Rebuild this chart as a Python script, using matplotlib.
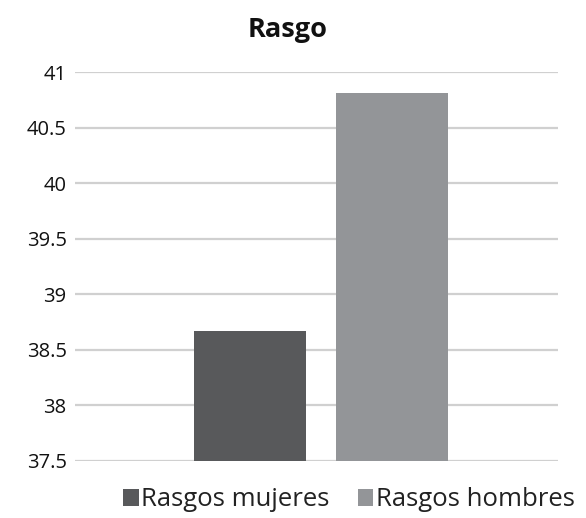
import matplotlib.pyplot as plt

# valores de los rasgos
series = ['Rasgos mujeres', 'Rasgos hombres']
valores = [38.67, 40.81]
colores = ['#58595b', '#939598']
yticks = [37.5, 38, 38.5, 39, 39.5, 40, 40.5, 41]

plt.rcParams['font.family'] = ['Open Sans', 'DejaVu Sans']

fig = plt.figure(figsize=(5.86, 5.18), dpi=100)
ax = fig.add_axes([75 / 586, 1 - 461 / 518, 483 / 586, 389 / 518])

for i, (nombre, v, c) in enumerate(zip(series, valores, colores)):
    ax.bar(i, v - 37.5, bottom=37.5, width=0.79, color=c, label=nombre, zorder=3)

ax.set_ylim(37.5, 41)
ax.set_xlim(-1.23, 2.17)
ax.set_yticks(yticks)
ax.set_yticklabels(['%g' % t for t in yticks])
ax.yaxis.grid(True, color='#d0d0d0', linewidth=1.6, zorder=0)
ax.set_xticks([])
ax.tick_params(axis='y', length=0, labelsize=14.5, pad=6, colors='#111111')
for s in ax.spines.values():
    s.set_visible(False)

fig.text(0.49, 1 - 30 / 518, 'Rasgo', ha='center', va='center',
         fontsize=19.5, fontweight='bold', color='#111111')

fig.legend(loc='center', bbox_to_anchor=(349 / 586, 1 - 500 / 518), ncol=2,
           frameon=False, fontsize=18.5, handlelength=0.6, handleheight=0.6,
           handletextpad=0.1, columnspacing=1.1, labelcolor='#222222')

fig.savefig('out.png', dpi=100)
